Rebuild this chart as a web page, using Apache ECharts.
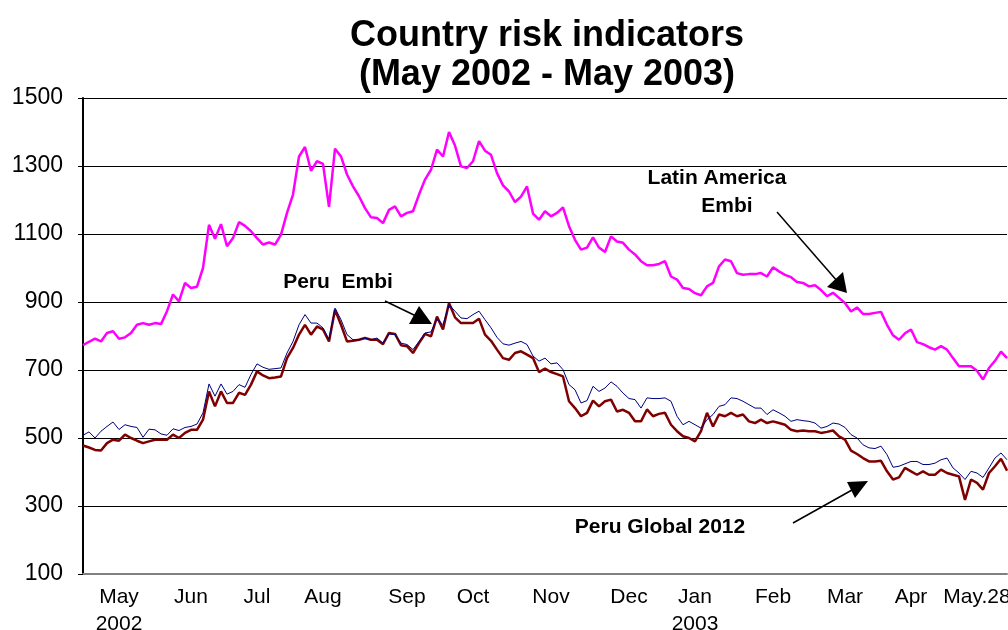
<!DOCTYPE html>
<html>
<head>
<meta charset="utf-8">
<script src="https://cdn.jsdelivr.net/npm/echarts@6/dist/echarts.min.js"></script>
<style>
html,body{margin:0;padding:0;background:#fff;}
#chart{width:1008px;height:630px;}
</style>
</head>
<body>
<div id="chart"></div>
<script>
// Month tick labels and the sample index they sit at
const monthLabels = ['May\n2002','Jun','Jul','Aug','Sep','Oct','Nov','Dec','Jan\n2003','Feb','Mar','Apr','May.28'];
const monthIdx    = [6, 18, 29, 40, 54, 65, 78, 91, 102, 115, 127, 138, 149];

const latamEmbi = [
 773,783,792,784,809,814,792,796,809,833,838,833,838,835,873,922,902,956,941,945,
 1000,1127,1086,1129,1064,1088,1135,1124,1108,1088,1069,1075,
 1069,1098,1162,1216,1328,1356,1286,1314,1306,1180,1351,1328,1275,1240,1211,1176,1149,1147,
 1132,1171,1181,1152,1162,1167,1216,1260,1289,1348,1328,1400,1360,
 1299,1294,1314,1373,1345,1333,1279,1243,1225,1194,1210,1240,1160,1142,1167,1152,1162,1178,
 1123,1083,1054,1060,1090,1060,1047,1093,1078,1074,1054,1040,
 1020,1008,1008,1012,1020,975,966,941,938,926,920,946,956,1005,1025,1020,985,980,982,982,
 985,975,1002,990,980,973,959,956,946,949,935,
 917,927,912,897,872,884,865,865,868,871,833,802,789,808,819,782,776,767,760,770,
 760,735,711,711,711,698,672,706,727,754,735
];
const peruEmbi = [
 508,518,500,520,534,547,525,539,534,531,502,526,524,512,508,527,522,531,534,541,
 574,659,623,659,629,637,657,649,687,718,708,702,
 704,706,750,784,833,863,838,838,824,790,882,848,804,789,789,794,789,794,779,806,
 804,779,775,760,784,809,812,851,833,892,873,
 853,851,863,873,848,824,796,777,773,779,784,775,741,726,735,718,721,701,657,642,
 603,610,652,637,647,665,652,632,616,613,
 588,618,616,616,618,608,564,539,549,539,529,554,569,593,598,618,616,608,598,588,
 588,569,583,574,564,549,554,551,549,544,529,
 534,544,541,531,510,500,480,471,469,476,451,414,417,424,431,431,422,422,426,436,
 441,412,397,378,402,397,384,412,441,456,436
];
const peruGlobal2012 = [
 478,472,465,463,485,495,492,510,500,492,485,490,495,495,495,510,500,515,524,524,
 554,637,593,637,603,603,633,627,657,696,684,676,
 678,681,735,765,804,833,804,828,819,784,877,833,784,786,789,794,789,789,776,809,
 806,773,770,750,779,806,799,857,819,897,855,
 838,838,838,851,804,786,760,735,730,750,755,745,735,694,704,694,688,681,608,588,
 564,574,610,593,608,613,578,583,574,549,
 549,584,564,571,574,539,520,505,500,490,520,574,534,569,564,574,564,569,549,544,
 554,544,549,544,539,524,520,522,520,520,515,
 518,522,505,495,463,453,441,431,431,433,402,378,384,412,402,392,402,392,392,407,
 397,392,387,318,378,368,348,397,417,439,404
];
const yTicks = {min: 100, max: 1500, interval: 200};

const categories = latamEmbi.map((_, i) => String(i));
const labelAt = {};
monthIdx.forEach((k, j) => { labelAt[k] = monthLabels[j]; });

const FONT = 'Arial, "Liberation Sans", sans-serif';
const chart = echarts.init(document.getElementById('chart'), null, {renderer: 'canvas'});
chart.setOption({
  animation: false,
  backgroundColor: '#ffffff',
  title: {
    text: 'Country risk indicators\n(May 2002 - May 2003)',
    left: 542, top: 12, textAlign: 'center',
    textStyle: {fontFamily: FONT, fontSize: 36, fontWeight: 'bold', color: '#000', lineHeight: 39}
  },
  grid: {left: 83, top: 98, width: 924, height: 476, containLabel: false, outerBoundsMode: 'none'},
  xAxis: {
    type: 'category', data: categories, boundaryGap: false,
    axisLine: {show: true, lineStyle: {color: '#808080', width: 2}},
    axisTick: {show: false},
    splitLine: {show: false},
    axisLabel: {
      interval: (idx) => labelAt[idx] !== undefined,
      formatter: (v, idx) => labelAt[idx] || '',
      fontFamily: FONT, fontSize: 21, color: '#000', lineHeight: 27, margin: 10
    }
  },
  yAxis: {
    type: 'value', min: yTicks.min, max: yTicks.max, interval: yTicks.interval,
    axisLine: {show: true, onZero: false, lineStyle: {color: '#000', width: 2}},
    axisTick: {show: true, length: 5, lineStyle: {color: '#000'}},
    splitLine: {show: true, lineStyle: {color: '#000', width: 1}},
    axisLabel: {fontFamily: FONT, fontSize: 23, color: '#000', margin: 20,
      formatter: (v) => String(v)}
  },
  series: [
    {name: 'Latin America Embi', type: 'line', data: latamEmbi, symbol: 'none',
     lineStyle: {color: '#FF00FF', width: 2.5}, itemStyle: {color: '#FF00FF'}, z: 3},
    {name: 'Peru Global 2012', type: 'line', data: peruGlobal2012, symbol: 'none',
     lineStyle: {color: '#800000', width: 2.5}, itemStyle: {color: '#800000'}, z: 3},
    {name: 'Peru Embi', type: 'line', data: peruEmbi, symbol: 'none',
     lineStyle: {color: '#000080', width: 1}, itemStyle: {color: '#000080'}, z: 4}
  ],
  graphic: [
    {type: 'text', x: 717, y: 178, z: 10,
     style: {text: 'Latin America', font: 'bold 21px ' + FONT, fill: '#000', textAlign: 'center', textVerticalAlign: 'middle'}},
    {type: 'text', x: 727, y: 206, z: 10,
     style: {text: 'Embi', font: 'bold 21px ' + FONT, fill: '#000', textAlign: 'center', textVerticalAlign: 'middle'}},
    {type: 'line', z: 10, shape: {x1: 777, y1: 212, x2: 838, y2: 282}, style: {stroke: '#000', lineWidth: 1.5}},
    {type: 'polygon', z: 10, shape: {points: [[847, 293], [827, 287], [843, 272]]}, style: {fill: '#000'}},

    {type: 'text', x: 338, y: 282, z: 10,
     style: {text: 'Peru  Embi', font: 'bold 21px ' + FONT, fill: '#000', textAlign: 'center', textVerticalAlign: 'middle'}},
    {type: 'line', z: 10, shape: {x1: 385, y1: 301, x2: 416, y2: 316}, style: {stroke: '#000', lineWidth: 1.5}},
    {type: 'polygon', z: 10, shape: {points: [[432, 324], [409, 324], [419, 306]]}, style: {fill: '#000'}},

    {type: 'text', x: 660, y: 527, z: 10,
     style: {text: 'Peru Global 2012', font: 'bold 21px ' + FONT, fill: '#000', textAlign: 'center', textVerticalAlign: 'middle'}},
    {type: 'line', z: 10, shape: {x1: 793, y1: 523, x2: 852, y2: 490}, style: {stroke: '#000', lineWidth: 1.5}},
    {type: 'polygon', z: 10, shape: {points: [[868, 481], [847, 482], [855, 498]]}, style: {fill: '#000'}}
  ]
});
</script>
</body>
</html>
